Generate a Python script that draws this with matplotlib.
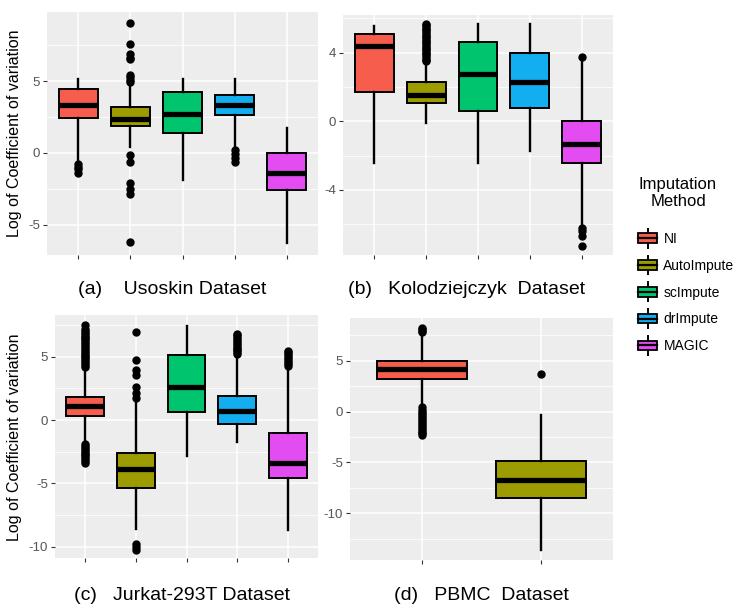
import matplotlib
matplotlib.use('Agg')
import matplotlib.pyplot as plt
from matplotlib.legend_handler import HandlerBase
from matplotlib.patches import Rectangle, Patch
from matplotlib.lines import Line2D

plt.rcParams['font.family'] = ['Liberation Sans', 'DejaVu Sans']

methods = ['NI', 'AutoImpute', 'scImpute', 'drImpute', 'MAGIC']
colors = ['#F65D4D', '#9C9C00', '#00C46E', '#12AEEF', '#E24CF0']

# (a) Usoskin
usoskin_lo = [-0.55, 0.44, -1.87, 0.5, -6.25]
usoskin_q1 = [2.43, 1.88, 1.39, 2.64, -2.6]
usoskin_med = [3.33, 2.36, 2.7, 3.33, -1.39]
usoskin_q3 = [4.44, 3.2, 4.24, 4.03, 0.0]
usoskin_hi = [5.15, 4.8, 5.15, 5.15, 1.74]
usoskin_fliers = [
    [-0.75, -0.97, -1.15, -1.39],
    [9.05, 7.6, 6.85, 6.6, 6.5, 5.4, 5.25, 5.1, 4.95,
     -0.14, -0.65, -2.06, -2.5, -2.85, -6.2],
    [],
    [0.21, -0.07, -0.37, -0.6],
    [],
]

# (b) Kolodziejczyk
kolo_lo = [-2.46, -0.08, -2.46, -1.73, -6.02]
kolo_q1 = [1.68, 1.05, 0.6, 0.76, -2.46]
kolo_med = [4.4, 1.54, 2.75, 2.3, -1.35]
kolo_q3 = [5.09, 2.3, 4.6, 4.0, 0.0]
kolo_hi = [5.57, 3.4, 5.67, 5.67, 3.6]
kolo_fliers = [
    [],
    [3.5, 3.6, 3.7, 3.8, 3.9, 4.0, 4.1, 4.2, 4.3, 4.4, 4.5, 4.6, 4.7, 4.8,
     4.9, 5.0, 5.1, 5.2, 5.3, 5.4, 5.5, 5.6, 5.67],
    [],
    [],
    [3.73, -6.22, -6.42, -6.67, -7.29],
]

# (c) Jurkat-293T
jurkat_lo = [-1.76, -8.6, -2.85, -1.77, -8.7]
jurkat_q1 = [0.3, -5.4, 0.64, -0.3, -4.54]
jurkat_med = [1.1, -3.89, 2.6, 0.7, -3.4]
jurkat_q3 = [1.83, -2.62, 5.16, 1.9, -1.0]
jurkat_hi = [4.1, 1.6, 7.4, 5.1, 4.1]
jurkat_fliers = [
    [4.2, 4.35, 4.5, 4.65, 4.8, 4.95, 5.1, 5.25, 5.4, 5.55, 5.7, 5.85, 6.0,
     6.15, 6.3, 6.45, 6.6, 6.75, 6.9, 7.05, 7.2, 7.48,
     -1.9, -2.05, -2.2, -2.35, -2.5, -2.65, -2.8, -2.95, -3.1, -3.25, -3.36],
    [6.96, 4.76, 3.92, 3.57, 2.59, 2.14, 1.72, -9.76, -10.03, -10.24],
    [],
    [5.2, 5.35, 5.5, 5.65, 5.8, 5.95, 6.1, 6.25, 6.4, 6.55, 6.7, 6.8],
    [4.3, 4.45, 4.6, 4.75, 4.9, 5.05, 5.2, 5.35, 5.45],
]

# (d) PBMC
pbmc_lo = [0.6, -13.6]
pbmc_q1 = [3.16, -8.5]
pbmc_med = [4.15, -6.7]
pbmc_q3 = [5.0, -4.84]
pbmc_hi = [7.6, -0.3]
pbmc_fliers = [
    [7.8, 7.95, 8.1, 8.25, 0.4, 0.2, 0.0, -0.2, -0.4, -0.6, -0.8, -1.0, -1.2,
     -1.4, -1.6, -1.8, -2.0, -2.15, -2.3],
    [3.65],
]


def make_stats(lo, q1, med, q3, hi, fliers):
    return [dict(whislo=a, q1=b, med=c, q3=d, whishi=e, fliers=f)
            for a, b, c, d, e, f in zip(lo, q1, med, q3, hi, fliers)]


def draw_panel(ax, stats, cols, ylim, majors, minors):
    n = len(stats)
    pos = list(range(1, n + 1))
    ax.set_facecolor('#EDEDED')
    bp = ax.bxp(stats, positions=pos, widths=0.75, patch_artist=True,
                showcaps=False,
                boxprops=dict(linewidth=1.4, edgecolor='black'),
                medianprops=dict(color='black', linewidth=3.8,
                                 solid_capstyle='butt'),
                whiskerprops=dict(color='black', linewidth=1.7),
                flierprops=dict(marker='o', markerfacecolor='black',
                                markeredgecolor='black', markersize=5))
    for patch, c in zip(bp['boxes'], cols):
        patch.set_facecolor(c)
    ax.set_xlim(0.4, n + 0.6)
    ax.set_ylim(ylim)
    ax.set_yticks(majors)
    ax.set_yticks(minors, minor=True)
    ax.set_yticklabels([str(v) for v in majors])
    ax.set_xticks(pos)
    ax.set_xticklabels([])
    ax.grid(which='major', color='white', lw=1.1)
    ax.grid(which='minor', axis='y', color='white', lw=0.55)
    ax.set_axisbelow(True)
    for s in ax.spines.values():
        s.set_visible(False)
    ax.tick_params(which='major', length=3, width=0.8, color='#333333',
                   labelcolor='#555555', labelsize=9.5, pad=2)
    ax.tick_params(which='minor', length=0)


class BoxKey(HandlerBase):
    def create_artists(self, legend, orig_handle, xdescent, ydescent,
                       width, height, fontsize, trans):
        x0, y0 = -xdescent, -ydescent
        cx = x0 + width / 2
        whisk = Line2D([cx, cx], [y0 - 2.5, y0 + height + 2.5], color='black',
                       lw=1.4, transform=trans)
        box = Rectangle((x0 + width * 0.05, y0 + height * 0.1),
                        width * 0.9, height * 0.8,
                        facecolor=orig_handle.get_facecolor(),
                        edgecolor='black', lw=1.3, transform=trans)
        med = Line2D([x0 + width * 0.05, x0 + width * 0.95],
                     [y0 + height / 2, y0 + height / 2], color='black',
                     lw=1.6, transform=trans)
        return [whisk, box, med]


fig = plt.figure(figsize=(7.5, 6.09), dpi=100)
W, H = 750, 609


def place(left, top, right, bottom):
    return fig.add_axes([left / W, 1 - bottom / H, (right - left) / W,
                         (bottom - top) / H])


ax_a = place(47, 12, 318, 255)
ax_b = place(343, 15, 613, 255)
ax_c = place(55, 315, 318, 558)
ax_d = place(350, 318, 613, 560)

draw_panel(ax_a, make_stats(usoskin_lo, usoskin_q1, usoskin_med, usoskin_q3,
                            usoskin_hi, usoskin_fliers),
           colors, (-7.1, 9.8), [-5, 0, 5], [-2.5, 2.5, 7.5])
draw_panel(ax_b, make_stats(kolo_lo, kolo_q1, kolo_med, kolo_q3,
                            kolo_hi, kolo_fliers),
           colors, (-7.8, 6.2), [-4, 0, 4], [-6, -2, 2, 6])
draw_panel(ax_c, make_stats(jurkat_lo, jurkat_q1, jurkat_med, jurkat_q3,
                            jurkat_hi, jurkat_fliers),
           colors, (-10.9, 8.3), [-10, -5, 0, 5], [-7.5, -2.5, 2.5, 7.5])
draw_panel(ax_d, make_stats(pbmc_lo, pbmc_q1, pbmc_med, pbmc_q3,
                            pbmc_hi, pbmc_fliers),
           colors[:2], (-14.6, 9.2), [-10, -5, 0, 5],
           [-12.5, -7.5, -2.5, 2.5, 7.5])

ylab = 'Log of Coefficient of variation'
fig.text(15 / W, 1 - 133 / H, ylab, rotation=90, ha='center', va='center',
         fontsize=11.5)
fig.text(15 / W, 1 - 437 / H, ylab, rotation=90, ha='center', va='center',
         fontsize=11.5)

fig.text(172 / W, 1 - 290 / H, '(a)    Usoskin Dataset', ha='center',
         va='center', fontsize=14)
fig.text(467 / W, 1 - 290 / H, '(b)   Kolodziejczyk  Dataset', ha='center',
         va='center', fontsize=14)
fig.text(182 / W, 1 - 596 / H, '(c)   Jurkat-293T Dataset', ha='center',
         va='center', fontsize=14)
fig.text(481 / W, 1 - 596 / H, '(d)   PBMC  Dataset', ha='center',
         va='center', fontsize=14)

# legend: title as separate text so the gap below it can match
fig.text(678 / W, 1 - 193 / H, 'Imputation\nMethod', ha='center',
         va='center', fontsize=12, multialignment='center', linespacing=1.15)
handles = [Patch(facecolor=c, edgecolor='black') for c in colors]
fig.legend(handles, methods, loc='upper left',
           bbox_to_anchor=(637 / W, 1 - 232 / H), frameon=False,
           fontsize=10, handler_map={Patch: BoxKey()}, handlelength=1.55,
           handleheight=0.95, labelspacing=0.92, handletextpad=0.35,
           borderaxespad=0, borderpad=0)

fig.savefig('out.png', dpi=100)
